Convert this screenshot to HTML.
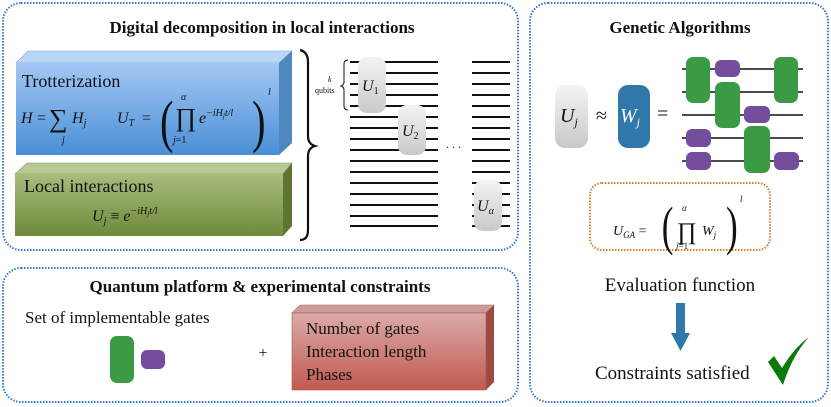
<!DOCTYPE html>
<html><head><meta charset="utf-8"><style>
html,body{margin:0;padding:0;background:#fff;width:831px;height:407px;overflow:hidden}
svg{display:block}
text{font-family:"Liberation Serif",serif;fill:#111}
.m{font-style:italic}
</style></head><body>
<svg width="831" height="407" viewBox="0 0 831 407" xmlns="http://www.w3.org/2000/svg">
<defs>
<linearGradient id="bl" x1="0" y1="0" x2="0" y2="1"><stop offset="0" stop-color="#a3c8f4"/><stop offset="1" stop-color="#4a8fd6"/></linearGradient>
<linearGradient id="gr" x1="0" y1="0" x2="0" y2="1"><stop offset="0" stop-color="#a9bc7c"/><stop offset="1" stop-color="#6e8a3a"/></linearGradient>
<linearGradient id="rd" x1="0" y1="0" x2="0" y2="1"><stop offset="0" stop-color="#dcaaa8"/><stop offset="1" stop-color="#c05a50"/></linearGradient>
<linearGradient id="gy" x1="0" y1="0" x2="0" y2="1"><stop offset="0" stop-color="#f4f4f4"/><stop offset="1" stop-color="#c9c9c9"/></linearGradient>
</defs>
<g fill="none" stroke="#2f7ad0" stroke-width="2" stroke-dasharray="1.5 1.5">
<rect x="3" y="3" width="515" height="247" rx="18"/>
<rect x="3" y="268" width="515" height="134" rx="18"/>
<rect x="530" y="3" width="298" height="399" rx="18"/>
</g>
<text x="262" y="33" font-size="17" font-weight="bold" text-anchor="middle">Digital decomposition in local interactions</text>
<text x="260" y="292" font-size="17" font-weight="bold" text-anchor="middle">Quantum platform &amp; experimental constraints</text>
<text x="680" y="33" font-size="17" font-weight="bold" text-anchor="middle">Genetic Algorithms</text>

<polygon points="16,63 28,51 292,51 279,63" fill="#b9d6f6" stroke="#7aa6d8" stroke-width="0.6"/>
<polygon points="279,63 292,51 292,143 279,155" fill="#4f87bf"/>
<rect x="16" y="63" width="263" height="92" fill="url(#bl)"/>
<text x="22" y="87" font-size="18">Trotterization</text>
<text x="21" y="123" font-size="16" class="m">H</text>
<text x="37" y="123" font-size="16">=</text>
<text x="49" y="127" font-size="26">∑</text>
<text x="72" y="123" font-size="16" class="m">H<tspan font-size="10" dy="3">j</tspan></text>
<text x="62" y="143" font-size="10" class="m">j</text>
<text x="117" y="123" font-size="16" class="m">U<tspan font-size="10" dy="3">T</tspan></text>
<text x="142" y="123" font-size="16">=</text>
<text x="160" y="141" font-size="58" transform="scale(0.7,1) translate(68.6,0)">(</text>
<text x="175" y="126" font-size="26">∏</text>
<text x="181" y="100" font-size="10" class="m">α</text>
<text x="173" y="143" font-size="10" class="m">j<tspan font-style="normal">=1</tspan></text>
<text x="199" y="123" font-size="16" class="m">e<tspan font-size="10" dy="-7">−iH<tspan font-size="7" dy="2">j</tspan><tspan dy="-2">t/l</tspan></tspan></text>
<text x="252" y="141" font-size="58" transform="scale(0.7,1) translate(108,0)">)</text>
<text x="268" y="95" font-size="10" class="m">l</text>

<polygon points="15,174 27,163 292,163 283,174" fill="#b8c796" stroke="#8aa05e" stroke-width="0.6"/>
<polygon points="283,174 292,163 292,226 283,236" fill="#5e7630"/>
<rect x="15" y="174" width="268" height="62" fill="url(#gr)"/>
<text x="24" y="192" font-size="18">Local interactions</text>
<text x="92" y="221" font-size="16" class="m">U<tspan font-size="10" dy="3">j</tspan><tspan dy="-3" font-style="normal"> ≡ </tspan>e<tspan font-size="10" dy="-7">−iH<tspan font-size="7" dy="2">j</tspan><tspan dy="-2">t/l</tspan></tspan></text>

<path d="M300,50 Q308,52 308,62 L308,136 Q308,144 315,146 Q308,148 308,156 L308,230 Q308,240 300,240" fill="none" stroke="#111" stroke-width="2.2"/>

<g stroke="#111" stroke-width="2">
<line x1="350" y1="62" x2="438" y2="62"/><line x1="472" y1="62" x2="510" y2="62"/>
<line x1="350" y1="73" x2="438" y2="73"/><line x1="472" y1="73" x2="510" y2="73"/>
<line x1="350" y1="84" x2="438" y2="84"/><line x1="472" y1="84" x2="510" y2="84"/>
<line x1="350" y1="95" x2="438" y2="95"/><line x1="472" y1="95" x2="510" y2="95"/>
<line x1="350" y1="106" x2="438" y2="106"/><line x1="472" y1="106" x2="510" y2="106"/>
<line x1="350" y1="117" x2="438" y2="117"/><line x1="472" y1="117" x2="510" y2="117"/>
<line x1="350" y1="128" x2="438" y2="128"/><line x1="472" y1="128" x2="510" y2="128"/>
<line x1="350" y1="139" x2="438" y2="139"/><line x1="472" y1="139" x2="510" y2="139"/>
<line x1="350" y1="150" x2="438" y2="150"/><line x1="472" y1="150" x2="510" y2="150"/>
<line x1="350" y1="161" x2="438" y2="161"/><line x1="472" y1="161" x2="510" y2="161"/>
<line x1="350" y1="172" x2="438" y2="172"/><line x1="472" y1="172" x2="510" y2="172"/>
<line x1="350" y1="183" x2="438" y2="183"/><line x1="472" y1="183" x2="510" y2="183"/>
<line x1="350" y1="194" x2="438" y2="194"/><line x1="472" y1="194" x2="510" y2="194"/>
<line x1="350" y1="205" x2="438" y2="205"/><line x1="472" y1="205" x2="510" y2="205"/>
<line x1="350" y1="216" x2="438" y2="216"/><line x1="472" y1="216" x2="510" y2="216"/>
<line x1="350" y1="226" x2="438" y2="226"/><line x1="472" y1="226" x2="510" y2="226"/>
</g>
<rect x="358" y="57" width="28" height="56" rx="9" fill="url(#gy)"/>
<rect x="398" y="105" width="28" height="50" rx="9" fill="url(#gy)"/>
<rect x="474" y="180" width="28" height="51" rx="9" fill="url(#gy)"/>
<text x="362" y="91" font-size="16" class="m">U<tspan font-size="10" dy="3" font-style="normal">1</tspan></text>
<text x="402" y="136" font-size="16" class="m">U<tspan font-size="10" dy="3" font-style="normal">2</tspan></text>
<text x="477" y="211" font-size="16" class="m">U<tspan font-size="10" dy="3">α</tspan></text>
<text x="446" y="148" font-size="12">. . .</text>
<text x="328" y="82" font-size="8" class="m">k</text>
<text x="315" y="93" font-size="8">qubits</text>
<path d="M348,60 Q344,60 344,64 L344,82 Q344,85 341,86 Q344,87 344,90 L344,106 Q344,110 348,110" fill="none" stroke="#111" stroke-width="1"/>

<text x="25" y="323" font-size="17">Set of implementable gates</text>
<rect x="110" y="336" width="24" height="47" rx="7" fill="#3b9a44"/>
<rect x="141" y="350" width="24" height="19" rx="6" fill="#744d9c"/>
<text x="263" y="358" font-size="16" text-anchor="middle" fill="#444">+</text>
<polygon points="292,313 300,305 494,305 486,313" fill="#cf9b98" stroke="#a06a66" stroke-width="0.6"/>
<polygon points="486,313 494,305 494,382 486,390" fill="#9c4a44"/>
<rect x="292" y="313" width="194" height="77" fill="url(#rd)" stroke="#a05a54" stroke-width="0.6"/>
<text x="306" y="334" font-size="17">Number of gates</text>
<text x="306" y="357" font-size="17">Interaction length</text>
<text x="306" y="380" font-size="17">Phases</text>

<rect x="555" y="85" width="33" height="63" rx="10" fill="url(#gy)"/>
<text x="560" y="122" font-size="20" class="m">U<tspan font-size="12" dy="4">j</tspan></text>
<text x="596" y="122" font-size="20">≈</text>
<rect x="618" y="85" width="32" height="63" rx="10" fill="#2e78aa"/>
<text x="620" y="122" font-size="20" class="m" style="fill:#fff">W<tspan font-size="12" dy="4">j</tspan></text>
<text x="657" y="120" font-size="20">=</text>
<g stroke="#111" stroke-width="1.5">
<line x1="682" y1="69" x2="803" y2="69"/><line x1="682" y1="92" x2="803" y2="92"/>
<line x1="682" y1="115" x2="803" y2="115"/><line x1="682" y1="138" x2="803" y2="138"/>
<line x1="682" y1="161" x2="803" y2="161"/>
</g>
<g fill="#3b9a44">
<rect x="686" y="57" width="24" height="46" rx="7"/>
<rect x="774" y="57" width="24" height="46" rx="7"/>
<rect x="715" y="82" width="25" height="46" rx="7"/>
<rect x="744" y="126" width="26" height="47" rx="7"/>
</g>
<g fill="#744d9c">
<rect x="715" y="60" width="25" height="17" rx="6"/>
<rect x="744" y="106" width="26" height="17" rx="6"/>
<rect x="686" y="129" width="25" height="18" rx="6"/>
<rect x="686" y="152" width="25" height="18" rx="6"/>
<rect x="774" y="152" width="25" height="18" rx="6"/>
</g>
<rect x="590" y="183" width="180" height="67" rx="12" fill="none" stroke="#e07b2a" stroke-width="2" stroke-dasharray="1.5 1.5"/>
<text x="613" y="235" font-size="14" class="m">U<tspan font-size="9" dy="3">GA</tspan><tspan dy="-3" font-style="normal"> =</tspan></text>
<text x="662" y="244" font-size="54" transform="scale(0.65,1) translate(356,0)">(</text>
<text x="677" y="239" font-size="24">∏</text>
<text x="682" y="211" font-size="9" class="m">α</text>
<text x="676" y="249" font-size="9" class="m">j<tspan font-style="normal">=1</tspan></text>
<text x="702" y="235" font-size="14" class="m">W<tspan font-size="9" dy="3">j</tspan></text>
<text x="726" y="244" font-size="54" transform="scale(0.65,1) translate(391,0)">)</text>
<text x="740" y="202" font-size="9" class="m">l</text>
<text x="680" y="291" font-size="19" text-anchor="middle">Evaluation function</text>
<rect x="676" y="303" width="9" height="32" fill="#2e78aa"/>
<polygon points="671,333 690,333 680.5,351" fill="#2e78aa"/>
<text x="595" y="379" font-size="19">Constraints satisfied</text>
<path d="M768,362 L774,356 L782,368 Q794,348 809,337 Q792,356 783,385 Z" fill="#0a7a0a"/>
</svg>
</body></html>
